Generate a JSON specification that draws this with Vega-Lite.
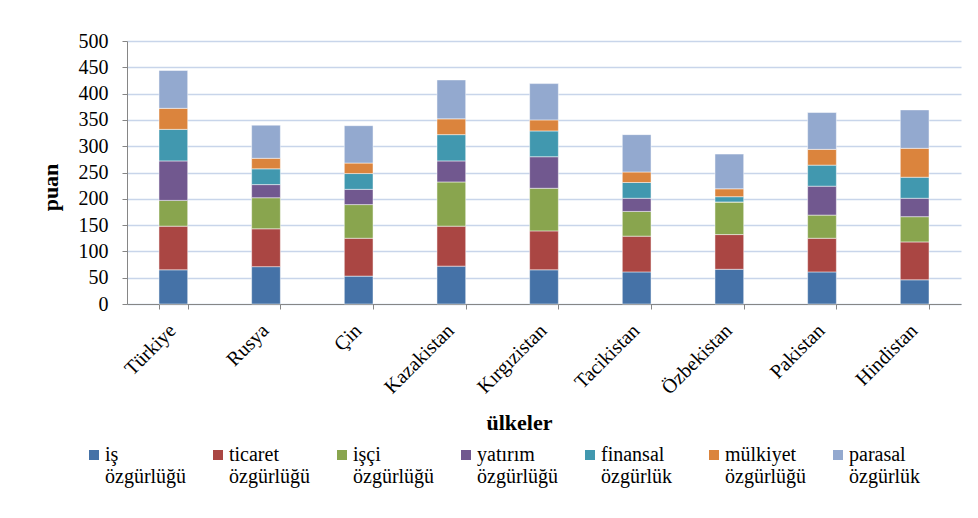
{
  "$schema": "https://vega.github.io/schema/vega-lite/v6.json",
  "width": 834,
  "height": 263,
  "autosize": {"type": "none"},
  "padding": {"left": 127, "top": 41, "right": 17, "bottom": 214},
  "background": "white",
  "config": {"font": "Liberation Serif", "view": {"stroke": null}},
  "data": {"values": [
    {"ulke": "Türkiye", "g": "iş özgürlüğü", "s": 1, "v": 65},
    {"ulke": "Türkiye", "g": "ticaret özgürlüğü", "s": 2, "v": 83},
    {"ulke": "Türkiye", "g": "işçi özgürlüğü", "s": 3, "v": 49},
    {"ulke": "Türkiye", "g": "yatırım özgürlüğü", "s": 4, "v": 75},
    {"ulke": "Türkiye", "g": "finansal özgürlük", "s": 5, "v": 60},
    {"ulke": "Türkiye", "g": "mülkiyet özgürlüğü", "s": 6, "v": 40},
    {"ulke": "Türkiye", "g": "parasal özgürlük", "s": 7, "v": 72},
    {"ulke": "Rusya", "g": "iş özgürlüğü", "s": 1, "v": 71},
    {"ulke": "Rusya", "g": "ticaret özgürlüğü", "s": 2, "v": 72},
    {"ulke": "Rusya", "g": "işçi özgürlüğü", "s": 3, "v": 59},
    {"ulke": "Rusya", "g": "yatırım özgürlüğü", "s": 4, "v": 25},
    {"ulke": "Rusya", "g": "finansal özgürlük", "s": 5, "v": 30},
    {"ulke": "Rusya", "g": "mülkiyet özgürlüğü", "s": 6, "v": 20},
    {"ulke": "Rusya", "g": "parasal özgürlük", "s": 7, "v": 63},
    {"ulke": "Çin", "g": "iş özgürlüğü", "s": 1, "v": 53},
    {"ulke": "Çin", "g": "ticaret özgürlüğü", "s": 2, "v": 72},
    {"ulke": "Çin", "g": "işçi özgürlüğü", "s": 3, "v": 64},
    {"ulke": "Çin", "g": "yatırım özgürlüğü", "s": 4, "v": 29},
    {"ulke": "Çin", "g": "finansal özgürlük", "s": 5, "v": 30},
    {"ulke": "Çin", "g": "mülkiyet özgürlüğü", "s": 6, "v": 20},
    {"ulke": "Çin", "g": "parasal özgürlük", "s": 7, "v": 71},
    {"ulke": "Kazakistan", "g": "iş özgürlüğü", "s": 1, "v": 72},
    {"ulke": "Kazakistan", "g": "ticaret özgürlüğü", "s": 2, "v": 76},
    {"ulke": "Kazakistan", "g": "işçi özgürlüğü", "s": 3, "v": 84},
    {"ulke": "Kazakistan", "g": "yatırım özgürlüğü", "s": 4, "v": 40},
    {"ulke": "Kazakistan", "g": "finansal özgürlük", "s": 5, "v": 50},
    {"ulke": "Kazakistan", "g": "mülkiyet özgürlüğü", "s": 6, "v": 30},
    {"ulke": "Kazakistan", "g": "parasal özgürlük", "s": 7, "v": 74},
    {"ulke": "Kırgızistan", "g": "iş özgürlüğü", "s": 1, "v": 65},
    {"ulke": "Kırgızistan", "g": "ticaret özgürlüğü", "s": 2, "v": 74},
    {"ulke": "Kırgızistan", "g": "işçi özgürlüğü", "s": 3, "v": 81},
    {"ulke": "Kırgızistan", "g": "yatırım özgürlüğü", "s": 4, "v": 60},
    {"ulke": "Kırgızistan", "g": "finansal özgürlük", "s": 5, "v": 49},
    {"ulke": "Kırgızistan", "g": "mülkiyet özgürlüğü", "s": 6, "v": 21},
    {"ulke": "Kırgızistan", "g": "parasal özgürlük", "s": 7, "v": 69},
    {"ulke": "Tacikistan", "g": "iş özgürlüğü", "s": 1, "v": 61},
    {"ulke": "Tacikistan", "g": "ticaret özgürlüğü", "s": 2, "v": 68},
    {"ulke": "Tacikistan", "g": "işçi özgürlüğü", "s": 3, "v": 47},
    {"ulke": "Tacikistan", "g": "yatırım özgürlüğü", "s": 4, "v": 25},
    {"ulke": "Tacikistan", "g": "finansal özgürlük", "s": 5, "v": 30},
    {"ulke": "Tacikistan", "g": "mülkiyet özgürlüğü", "s": 6, "v": 20},
    {"ulke": "Tacikistan", "g": "parasal özgürlük", "s": 7, "v": 71},
    {"ulke": "Özbekistan", "g": "iş özgürlüğü", "s": 1, "v": 66},
    {"ulke": "Özbekistan", "g": "ticaret özgürlüğü", "s": 2, "v": 66},
    {"ulke": "Özbekistan", "g": "işçi özgürlüğü", "s": 3, "v": 62},
    {"ulke": "Özbekistan", "g": "yatırım özgürlüğü", "s": 4, "v": 0},
    {"ulke": "Özbekistan", "g": "finansal özgürlük", "s": 5, "v": 10},
    {"ulke": "Özbekistan", "g": "mülkiyet özgürlüğü", "s": 6, "v": 15},
    {"ulke": "Özbekistan", "g": "parasal özgürlük", "s": 7, "v": 66},
    {"ulke": "Pakistan", "g": "iş özgürlüğü", "s": 1, "v": 61},
    {"ulke": "Pakistan", "g": "ticaret özgürlüğü", "s": 2, "v": 64},
    {"ulke": "Pakistan", "g": "işçi özgürlüğü", "s": 3, "v": 44},
    {"ulke": "Pakistan", "g": "yatırım özgürlüğü", "s": 4, "v": 55},
    {"ulke": "Pakistan", "g": "finansal özgürlük", "s": 5, "v": 40},
    {"ulke": "Pakistan", "g": "mülkiyet özgürlüğü", "s": 6, "v": 30},
    {"ulke": "Pakistan", "g": "parasal özgürlük", "s": 7, "v": 70},
    {"ulke": "Hindistan", "g": "iş özgürlüğü", "s": 1, "v": 46},
    {"ulke": "Hindistan", "g": "ticaret özgürlüğü", "s": 2, "v": 72},
    {"ulke": "Hindistan", "g": "işçi özgürlüğü", "s": 3, "v": 48},
    {"ulke": "Hindistan", "g": "yatırım özgürlüğü", "s": 4, "v": 35},
    {"ulke": "Hindistan", "g": "finansal özgürlük", "s": 5, "v": 40},
    {"ulke": "Hindistan", "g": "mülkiyet özgürlüğü", "s": 6, "v": 55},
    {"ulke": "Hindistan", "g": "parasal özgürlük", "s": 7, "v": 73}
  ]},
  "mark": {"type": "bar", "stroke": "#ffffff", "strokeWidth": 0.8, "strokeOpacity": 0.6},
  "encoding": {
    "x": {
      "field": "ulke", "type": "nominal", "sort": null,
      "scale": {"paddingInner": 0.69, "paddingOuter": 0.345},
      "axis": {
        "title": "ülkeler", "labelAngle": -45, "labelFontSize": 20, "labelColor": "#000000",
        "labelPadding": 11, "labelOffset": -8, "tickBand": "extent", "tickSize": 5, "tickColor": "#868686",
        "domainColor": "#868686", "titleFontSize": 22, "titleFontWeight": "bold", "titleColor": "#000000",
        "titleX": 392, "titleY": 125, "titleBaseline": "alphabetic", "titleAlign": "center"
      }
    },
    "y": {
      "field": "v", "type": "quantitative", "stack": "zero",
      "scale": {"domain": [0, 500], "nice": false},
      "axis": {
        "title": "puan", "values": [0, 50, 100, 150, 200, 250, 300, 350, 400, 450, 500],
        "labelFontSize": 20, "labelColor": "#000000", "labelPadding": 14, "tickSize": 5,
        "tickColor": "#868686", "domainColor": "#868686", "gridColor": "#c8d5ea", "gridWidth": 1.5,
        "titleFontSize": 22, "titleFontWeight": "bold", "titleColor": "#000000",
        "titleX": -77, "titleY": 146, "titleBaseline": "middle", "titleAlign": "center", "titleAngle": -90
      }
    },
    "order": {"field": "s", "type": "quantitative", "sort": "ascending"},
    "color": {
      "field": "g", "type": "nominal",
      "sort": ["iş özgürlüğü", "ticaret özgürlüğü", "işçi özgürlüğü", "yatırım özgürlüğü", "finansal özgürlük", "mülkiyet özgürlüğü", "parasal özgürlük"],
      "scale": {
        "domain": ["iş özgürlüğü", "ticaret özgürlüğü", "işçi özgürlüğü", "yatırım özgürlüğü", "finansal özgürlük", "mülkiyet özgürlüğü", "parasal özgürlük"],
        "range": ["#4572A7", "#AA4643", "#89A54E", "#71588F", "#4198AF", "#DB843D", "#93A9CF"]
      },
      "legend": {
        "title": null, "orient": "none", "legendX": -43, "legendY": 404, "direction": "horizontal",
        "columns": 7, "gridAlign": "all", "columnPadding": 21, "padding": 0,
        "symbolType": "square", "symbolSize": 100, "symbolStrokeWidth": 0,
        "labelFontSize": 20, "labelOffset": 1, "labelColor": "#000000", "labelLimit": 200,
        "labelExpr": "split(datum.label, ' ')", "labelBaseline": "middle"
      }
    }
  }
}
